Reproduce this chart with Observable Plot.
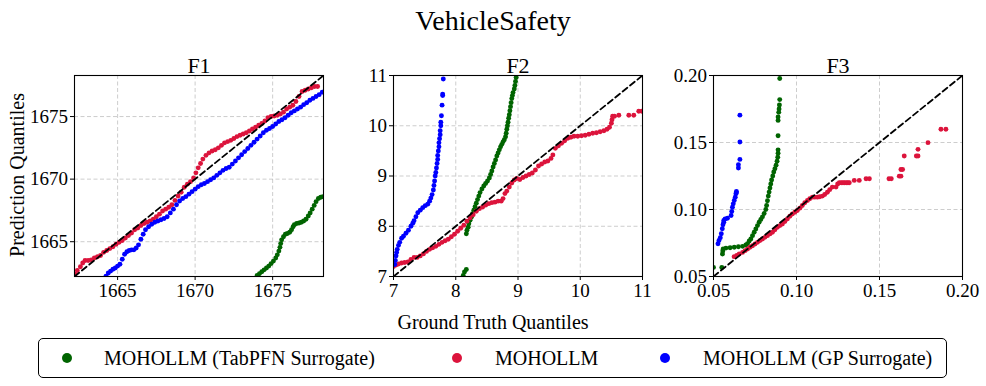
<!DOCTYPE html>
<html><head><meta charset="utf-8">
<script src="https://cdn.jsdelivr.net/npm/d3@7"></script>
<script src="https://cdn.jsdelivr.net/npm/@observablehq/plot@0.6"></script>
<style>
body{margin:0;background:#fff;}
#root{position:relative;width:986px;height:386px;font-family:"Liberation Serif","Times New Roman",serif;color:#000;overflow:hidden;background:#fff}
.abs{position:absolute;white-space:nowrap;line-height:1}
</style></head><body><div id="root"></div>
<script>
// ---------- text ----------
const chartTitle = "VehicleSafety";
const yLabel = "Prediction Quantiles";
const xLabel = "Ground Truth Quantiles";
const seriesNames = ["MOHOLLM (TabPFN Surrogate)", "MOHOLLM", "MOHOLLM (GP Surrogate)"];
const seriesColors = ["#006400", "#DC143C", "#0000FF"];
const panelTitles = ["F1", "F2", "F3"];

// ---------- F1 ----------
const f1Domain = [1662.22, 1678.28];
const f1Ticks = [1665, 1670, 1675];
const f1GreenX = [1674.0,1674.15,1674.3,1674.45,1674.6,1674.75,1674.9,1675.05,1675.2,1675.3,1675.4,1675.47,1675.52,1675.58,1675.7,1675.82,1675.95,1676.1,1676.22,1676.32,1676.4,1676.55,1676.7,1676.85,1677.0,1677.15,1677.3,1677.42,1677.55,1677.68,1677.8,1677.95,1678.1,1678.25];
const f1GreenY = [1662.3,1662.45,1662.6,1662.75,1662.9,1663.05,1663.25,1663.45,1663.7,1663.95,1664.25,1664.55,1664.85,1665.15,1665.4,1665.6,1665.65,1665.75,1665.95,1666.2,1666.35,1666.45,1666.5,1666.55,1666.65,1666.8,1667.05,1667.3,1667.6,1667.9,1668.2,1668.45,1668.55,1668.6];
const f1RedX = [1662.25,1662.4,1662.6,1662.75,1662.9,1663.1,1663.3,1663.5,1663.7,1663.9,1664.1,1664.3,1664.5,1664.7,1664.9,1665.1,1665.3,1665.5,1665.7,1665.9,1666.1,1666.3,1666.5,1666.7,1666.9,1667.1,1667.3,1667.5,1667.7,1667.9,1668.1,1668.3,1668.5,1668.7,1668.9,1669.1,1669.3,1669.5,1669.7,1669.9,1670.05,1670.2,1670.35,1670.5,1670.7,1670.9,1671.1,1671.3,1671.5,1671.7,1671.9,1672.1,1672.3,1672.5,1672.7,1672.9,1673.1,1673.3,1673.5,1673.7,1673.9,1674.1,1674.3,1674.5,1674.7,1674.9,1675.1,1675.3,1675.5,1675.7,1675.9,1676.1,1676.3,1676.5,1676.7,1676.9,1677.1,1677.3,1677.5,1677.7,1677.9];
const f1RedY = [1662.4,1662.7,1663.0,1663.3,1663.5,1663.5,1663.55,1663.7,1663.8,1663.9,1664.15,1664.3,1664.45,1664.6,1664.8,1664.95,1665.1,1665.3,1665.5,1665.7,1665.95,1666.1,1666.3,1666.45,1666.55,1666.65,1666.8,1667.0,1667.2,1667.45,1667.6,1667.75,1667.95,1668.3,1668.65,1668.95,1669.35,1669.6,1669.8,1670.1,1670.5,1670.9,1671.25,1671.6,1671.9,1672.1,1672.25,1672.35,1672.5,1672.7,1672.9,1673.0,1673.1,1673.25,1673.4,1673.5,1673.6,1673.7,1673.85,1674.0,1674.15,1674.3,1674.45,1674.65,1674.9,1675.0,1675.05,1675.1,1675.2,1675.35,1675.6,1675.75,1675.9,1676.2,1676.6,1677.0,1677.1,1677.2,1677.3,1677.4,1677.4];
const f1BlueX = [1664.25,1664.4,1664.55,1664.7,1664.85,1665.0,1665.15,1665.3,1665.45,1665.6,1665.75,1665.9,1666.05,1666.2,1666.35,1666.5,1666.65,1666.8,1667.0,1667.2,1667.4,1667.6,1667.8,1668.0,1668.2,1668.4,1668.6,1668.8,1669.0,1669.2,1669.4,1669.6,1669.8,1670.0,1670.2,1670.4,1670.6,1670.8,1671.0,1671.2,1671.4,1671.6,1671.8,1672.0,1672.2,1672.4,1672.6,1672.8,1673.0,1673.2,1673.4,1673.6,1673.8,1674.0,1674.2,1674.4,1674.6,1674.8,1675.0,1675.2,1675.4,1675.6,1675.8,1676.0,1676.2,1676.4,1676.6,1676.8,1677.0,1677.2,1677.4,1677.6,1677.8,1678.0,1678.2];
const f1BlueY = [1662.25,1662.5,1662.65,1662.8,1662.9,1663.05,1663.2,1663.6,1664.0,1664.2,1664.3,1664.35,1664.35,1664.5,1664.75,1665.2,1665.6,1665.95,1666.2,1666.4,1666.55,1666.65,1666.75,1666.85,1667.0,1667.3,1667.6,1667.95,1668.25,1668.45,1668.6,1668.8,1669.0,1669.2,1669.4,1669.55,1669.65,1669.8,1669.95,1670.1,1670.3,1670.5,1670.7,1670.85,1670.95,1671.2,1671.45,1671.7,1671.95,1672.2,1672.45,1672.7,1672.95,1673.2,1673.45,1673.7,1673.9,1674.05,1674.2,1674.4,1674.6,1674.75,1674.9,1675.1,1675.3,1675.45,1675.6,1675.75,1675.95,1676.1,1676.3,1676.45,1676.6,1676.75,1676.95];

// ---------- F2 ----------
const f2Domain = [7, 11];
const f2Ticks = [7, 8, 9, 10, 11];
const f2GreenX = [8.12,8.14,8.17,8.17,8.18,8.2,8.21,8.23,8.25,8.27,8.29,8.31,8.33,8.35,8.37,8.39,8.42,8.45,8.48,8.51,8.54,8.56,8.58,8.6,8.62,8.64,8.66,8.68,8.7,8.72,8.74,8.76,8.78,8.8,8.81,8.82,8.83,8.84,8.85,8.86,8.87,8.88,8.89,8.9,8.91,8.92,8.94,8.95,8.96,8.97];
const f2GreenY = [7.02,7.09,7.14,7.85,7.92,7.98,8.05,8.12,8.18,8.25,8.32,8.39,8.46,8.53,8.6,8.67,8.74,8.8,8.85,8.9,8.96,9.03,9.1,9.18,9.25,9.32,9.4,9.46,9.52,9.58,9.63,9.68,9.72,9.78,9.85,9.93,10.0,10.07,10.15,10.22,10.3,10.38,10.46,10.54,10.6,10.66,10.73,10.8,10.88,10.96];
const f2RedX = [7.0,7.04,7.08,7.13,7.18,7.23,7.28,7.33,7.38,7.43,7.48,7.53,7.58,7.63,7.68,7.73,7.78,7.83,7.88,7.93,7.98,8.03,8.08,8.13,8.18,8.23,8.28,8.33,8.38,8.43,8.48,8.53,8.58,8.63,8.68,8.73,8.76,8.79,8.82,8.86,8.9,8.94,8.98,9.03,9.08,9.13,9.18,9.23,9.28,9.33,9.38,9.43,9.48,9.53,9.56,9.6,9.65,9.7,9.75,9.8,9.85,9.9,9.96,10.02,10.08,10.14,10.2,10.26,10.32,10.38,10.43,10.47,10.5,10.51,10.52,10.55,10.62,10.78,10.86,10.94,10.99];
const f2RedY = [7.2,7.23,7.25,7.27,7.28,7.29,7.34,7.38,7.38,7.41,7.45,7.5,7.54,7.57,7.6,7.64,7.68,7.71,7.74,7.79,7.84,7.9,7.96,8.02,8.1,8.17,8.23,8.3,8.35,8.38,8.42,8.45,8.47,8.48,8.5,8.5,8.55,8.65,8.7,8.78,8.86,8.92,8.95,8.93,8.97,9.0,9.03,9.06,9.12,9.2,9.24,9.28,9.3,9.35,9.42,9.55,9.6,9.65,9.7,9.75,9.77,9.79,9.79,9.8,9.81,9.83,9.85,9.86,9.88,9.9,9.93,9.97,10.05,10.12,10.19,10.19,10.21,10.21,10.21,10.29,10.29];
const f2BlueX = [7.02,7.03,7.04,7.05,7.06,7.08,7.1,7.13,7.16,7.2,7.24,7.28,7.31,7.33,7.36,7.39,7.43,7.47,7.51,7.55,7.58,7.6,7.62,7.64,7.65,7.66,7.67,7.68,7.69,7.7,7.71,7.71,7.72,7.73,7.73,7.74,7.75,7.75,7.76,7.76,7.77,7.78,7.79,7.79,7.8];
const f2BlueY = [7.24,7.32,7.41,7.48,7.54,7.62,7.68,7.76,7.8,7.86,7.92,8.0,8.06,8.11,8.19,8.27,8.32,8.37,8.41,8.44,8.5,8.56,8.63,8.72,8.81,8.9,9.0,9.07,9.16,9.25,9.33,9.41,9.5,9.58,9.66,9.74,9.82,9.9,10.0,10.07,10.2,10.41,10.6,10.63,10.93];

// ---------- F3 ----------
const f3Domain = [0.05, 0.20];
const f3Ticks = [0.05, 0.10, 0.15, 0.20];
const f3GreenX = [0.05,0.055,0.0554,0.0556,0.0558,0.0575,0.06,0.0625,0.065,0.0675,0.0695,0.0705,0.0715,0.0725,0.0735,0.0745,0.0755,0.0765,0.0775,0.0785,0.0795,0.0805,0.0815,0.082,0.0825,0.083,0.0835,0.084,0.0845,0.085,0.0857,0.0863,0.087,0.0877,0.0883,0.0887,0.0889,0.0889,0.0889,0.0889,0.0889,0.0893,0.0895,0.0897,0.0899,0.0899];
const f3GreenY = [0.0568,0.0568,0.0668,0.069,0.0705,0.0712,0.0715,0.0718,0.0722,0.0725,0.0735,0.0745,0.0765,0.078,0.0805,0.083,0.0855,0.088,0.0905,0.0925,0.0945,0.097,0.1,0.103,0.1065,0.11,0.113,0.116,0.119,0.122,0.125,0.128,0.1305,0.133,0.136,0.139,0.142,0.1445,0.155,0.1665,0.169,0.1725,0.175,0.178,0.182,0.1978];
const f3RedX = [0.0624,0.064,0.0655,0.0675,0.069,0.0705,0.072,0.0735,0.075,0.0765,0.078,0.0795,0.081,0.0825,0.084,0.0855,0.087,0.0885,0.09,0.0915,0.093,0.0945,0.096,0.0975,0.099,0.1005,0.102,0.1035,0.105,0.1066,0.108,0.1096,0.111,0.1126,0.114,0.1156,0.117,0.1186,0.12,0.1216,0.1238,0.1248,0.1258,0.127,0.128,0.129,0.13,0.131,0.1318,0.1348,0.1378,0.1419,0.1439,0.1557,0.1571,0.1619,0.1629,0.1629,0.1639,0.1649,0.1722,0.1732,0.1732,0.1792,0.187,0.19];
const f3RedY = [0.0648,0.0658,0.0668,0.068,0.0693,0.0705,0.0718,0.073,0.0742,0.0755,0.0768,0.078,0.0792,0.0805,0.0818,0.083,0.0848,0.0867,0.088,0.0892,0.091,0.093,0.095,0.0967,0.098,0.0992,0.101,0.103,0.105,0.1067,0.108,0.1092,0.1092,0.1092,0.1095,0.11,0.1112,0.1129,0.1148,0.1167,0.1167,0.119,0.12,0.12,0.12,0.12,0.12,0.12,0.12,0.1217,0.1217,0.1229,0.1229,0.1229,0.1229,0.1249,0.1249,0.1299,0.1299,0.1399,0.1399,0.1399,0.1449,0.1499,0.1599,0.1599];
const f3BlueX = [0.0527,0.0533,0.0541,0.0547,0.0553,0.0557,0.0562,0.0562,0.057,0.0584,0.0606,0.061,0.0614,0.0619,0.0625,0.0631,0.0635,0.0638,0.0638,0.065,0.065,0.0659,0.0659,0.0659];
const f3BlueY = [0.0744,0.0769,0.0789,0.0819,0.0856,0.0886,0.0905,0.0918,0.093,0.0935,0.0955,0.0985,0.1017,0.1042,0.1067,0.1092,0.1117,0.1125,0.1135,0.131,0.1334,0.1374,0.1504,0.1704];

// ---------- layout ----------
const FW = 249, FH = 201, ML = 52, MR = 14, MT = 36, MB = 36, FRAME_TOP = 75;
const frameLefts = [74, 393, 712.5];
const FONT = '"Liberation Serif", "Times New Roman", serif';

const panels = [
  {title: panelTitles[0], domain: f1Domain, ticks: f1Ticks, fmt: d3.format("d"),
   series: [[f1GreenX, f1GreenY], [f1RedX, f1RedY], [f1BlueX, f1BlueY]]},
  {title: panelTitles[1], domain: f2Domain, ticks: f2Ticks, fmt: d3.format("d"),
   series: [[f2GreenX, f2GreenY], [f2RedX, f2RedY], [f2BlueX, f2BlueY]]},
  {title: panelTitles[2], domain: f3Domain, ticks: f3Ticks, fmt: d3.format(".2f"),
   series: [[f3GreenX, f3GreenY], [f3RedX, f3RedY], [f3BlueX, f3BlueY]]}
];

function makePanel(p) {
  const gridOpts = {stroke: "#b0b0b0", strokeOpacity: 0.8, strokeWidth: 0.8, strokeDasharray: "4,2.5"};
  const marks = [
    Plot.gridX(p.ticks, gridOpts),
    Plot.gridY(p.ticks, gridOpts)
  ];
  p.series.forEach(([xs, ys], i) => {
    const data = xs.map((x, j) => ({x, y: ys[j]}));
    marks.push(Plot.dot(data, {x: "x", y: "y", r: 2.45, fill: seriesColors[i], stroke: null, clip: true}));
  });
  marks.push(Plot.line(p.domain, {x: d => d, y: d => d, stroke: "#000", strokeWidth: 1.8, strokeDasharray: "6,3.5", clip: true}));
  marks.push(Plot.frame({stroke: "#000", strokeWidth: 1.1}));
  marks.push(Plot.axisX(p.ticks, {tickSize: 4, tickPadding: 3, tickFormat: p.fmt, fontSize: 19, label: null}));
  marks.push(Plot.axisY(p.ticks, {tickSize: 4, tickPadding: 2.5, tickFormat: p.fmt, fontSize: 19, label: null}));
  marks.push(Plot.text([p.title], {frameAnchor: "top", lineAnchor: "bottom", dy: -3, fontSize: 22, fill: "#000"}));
  return Plot.plot({
    width: ML + FW + MR, height: MT + FH + MB,
    marginLeft: ML, marginRight: MR, marginTop: MT, marginBottom: MB,
    x: {domain: p.domain, label: null},
    y: {domain: p.domain, label: null},
    style: {fontFamily: FONT, fontSize: "19px", color: "#000", background: "transparent", overflow: "visible"},
    marks
  });
}

const root = document.getElementById("root");
function addDiv(text, css) {
  const d = document.createElement("div");
  d.className = "abs";
  d.textContent = text;
  Object.assign(d.style, css);
  root.appendChild(d);
  return d;
}

panels.forEach((p, i) => {
  const svg = makePanel(p);
  svg.style.position = "absolute";
  svg.style.left = (frameLefts[i] - ML) + "px";
  svg.style.top = (FRAME_TOP - MT) + "px";
  root.appendChild(svg);
});

addDiv(chartTitle, {left: "493px", top: "21px", fontSize: "28px", transform: "translate(-50%,-50%)"});
addDiv(yLabel, {left: "17px", top: "175px", fontSize: "20px", transform: "translate(-50%,-50%) rotate(-90deg)"});
addDiv(xLabel, {left: "493px", top: "322px", fontSize: "20px", transform: "translate(-50%,-50%)"});

// legend
const box = document.createElement("div");
Object.assign(box.style, {position: "absolute", left: "38px", top: "338px", width: "909px", height: "40px",
  boxSizing: "border-box", border: "1.2px solid #000", borderRadius: "5px"});
root.appendChild(box);
const dotX = [67, 457, 665], textX = [104, 495, 703];
seriesNames.forEach((name, i) => {
  const dot = document.createElement("div");
  Object.assign(dot.style, {position: "absolute", left: (dotX[i] - 5) + "px", top: "353px", width: "10px", height: "10px",
    borderRadius: "50%", background: seriesColors[i]});
  root.appendChild(dot);
  addDiv(name, {left: textX[i] + "px", top: "358px", fontSize: "20px", transform: "translateY(-50%)"});
});
</script></body></html>
